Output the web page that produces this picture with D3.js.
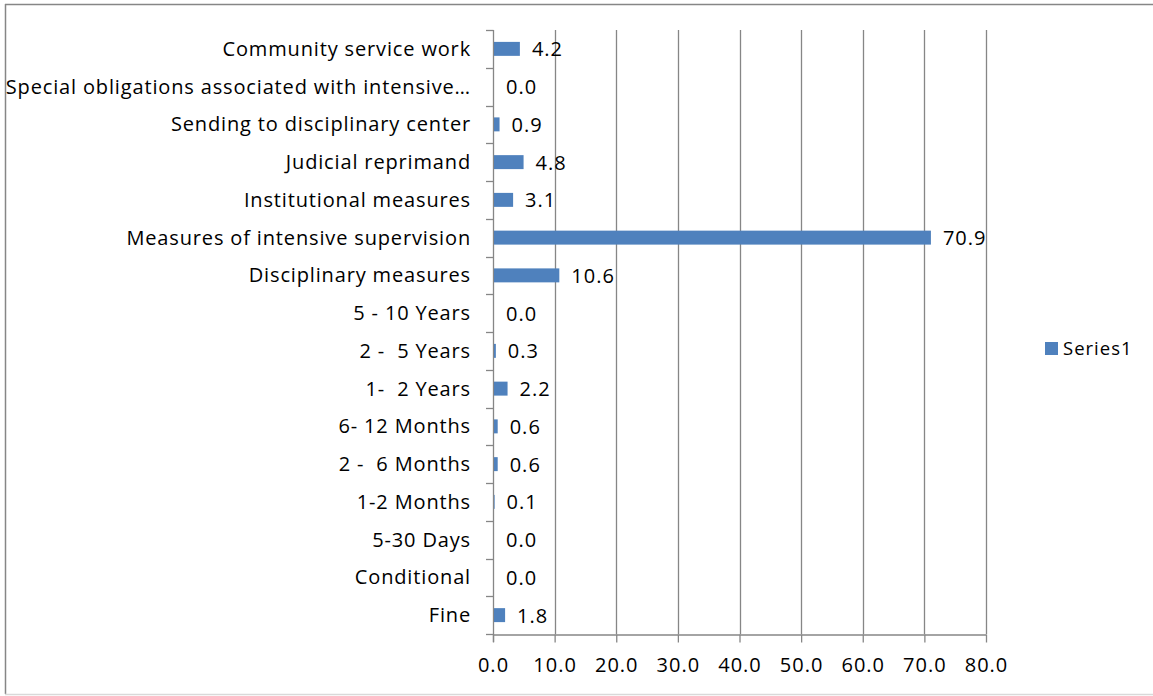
<!DOCTYPE html>
<html>
<head>
<meta charset="utf-8">
<script src="https://cdn.jsdelivr.net/npm/d3@7"></script>
<style>
  body { margin: 0; background: #fff; }
  text { font-family: "Open Sans", sans-serif; fill: #000; }
</style>
</head>
<body>
<div id="chart"></div>
<script>
// bottom to top, as in the picture
const categories = [
  "Fine", "Conditional", "5-30 Days", "1-2 Months", "2 -  6 Months", "6- 12 Months",
  "1-  2 Years", "2 -  5 Years", "5 - 10 Years", "Disciplinary measures",
  "Measures of intensive supervision", "Institutional measures", "Judicial reprimand",
  "Sending to disciplinary center", "Special obligations associated with intensive\u2026",
  "Community service work"
];
const series1 = [1.8, 0.0, 0.0, 0.1, 0.6, 0.6, 2.2, 0.3, 0.0, 10.6, 70.9, 3.1, 4.8, 0.9, 0.0, 4.2];
const xTicks = [0, 10, 20, 30, 40, 50, 60, 70, 80];
const seriesName = "Series1";

const W = 1153, H = 696;
const plot = {left: 493, right: 986, top: 30, bottom: 634};
const blue = "#4f81bd", grey = "#868686";

const svg = d3.select("#chart").append("svg")
  .attr("width", W).attr("height", H);

// outer chart border
svg.append("line").attr("x1", 5.5).attr("x2", 5.5).attr("y1", 4).attr("y2", 694)
  .attr("stroke", grey).attr("stroke-width", 1.5);
svg.append("line").attr("x1", 5).attr("x2", W).attr("y1", 4.5).attr("y2", 4.5)
  .attr("stroke", grey).attr("stroke-width", 1.5);
svg.append("line").attr("x1", 5).attr("x2", W).attr("y1", 694.5).attr("y2", 694.5)
  .attr("stroke", "#d9d9d9").attr("stroke-width", 1.5);

const x = d3.scaleLinear().domain([0, 80]).range([plot.left, plot.right]);
const y = d3.scaleBand().domain(categories.slice().reverse())
  .range([plot.top, plot.bottom]).paddingInner(0.63).paddingOuter(0.315);

// gridlines
svg.append("g").selectAll("line").data(xTicks.slice(1)).join("line")
  .attr("x1", d => Math.round(x(d)) + 0.5).attr("x2", d => Math.round(x(d)) + 0.5)
  .attr("y1", plot.top).attr("y2", plot.bottom)
  .attr("stroke", grey).attr("stroke-width", 1.3);

// x axis
const xAxis = svg.append("g").attr("transform", `translate(0,${plot.bottom + 0.5})`)
  .call(d3.axisBottom(x).tickValues(xTicks).tickSize(8).tickSizeOuter(0).tickPadding(15)
    .tickFormat(d3.format(".1f")));
xAxis.select(".domain").attr("stroke", grey).attr("stroke-width", 1.3);
xAxis.selectAll(".tick line").attr("stroke", grey).attr("stroke-width", 1.3);
xAxis.selectAll(".tick text").attr("font-size", 20).style("letter-spacing", "1px")
  .attr("font-family", "'Open Sans', sans-serif").attr("fill", "#000");

// y axis with ticks at band boundaries
const step = y.step();
const boundaries = categories.map(c => y(c) - (step - y.bandwidth()) / 2).concat([plot.bottom]);
const yg = svg.append("g");
yg.append("line").attr("x1", plot.left + 0.5).attr("x2", plot.left + 0.5)
  .attr("y1", plot.top).attr("y2", plot.bottom + 8)
  .attr("stroke", grey).attr("stroke-width", 1.3);
yg.selectAll("line.tk").data(boundaries).join("line").attr("class", "tk")
  .attr("x1", plot.left - 7).attr("x2", plot.left + 0.5)
  .attr("y1", d => Math.round(d) + 0.5).attr("y2", d => Math.round(d) + 0.5)
  .attr("stroke", grey).attr("stroke-width", 1.3);

// category labels
svg.append("g").selectAll("text").data(categories).join("text")
  .attr("x", plot.left - 22)
  .attr("y", d => y(d) + y.bandwidth() / 2)
  .attr("dy", "0.35em")
  .attr("text-anchor", "end")
  .attr("font-size", 20)
  .style("letter-spacing", "0.85px")
  .style("white-space", "pre")
  .text(d => d);

// bars
svg.append("g").selectAll("rect").data(series1).join("rect")
  .attr("x", plot.left + 1)
  .attr("y", (d, i) => y(categories[i]))
  .attr("width", d => Math.max(0, x(d) - plot.left))
  .attr("height", y.bandwidth())
  .attr("fill", blue);

// value labels
svg.append("g").selectAll("text").data(series1).join("text")
  .attr("x", d => x(d) + 13)
  .attr("y", (d, i) => y(categories[i]) + y.bandwidth() / 2)
  .attr("dy", "0.38em")
  .attr("font-size", 20)
  .style("letter-spacing", "1px")
  .text(d => d.toFixed(1));

// legend
const lg = svg.append("g").attr("transform", "translate(1045,342)");
lg.append("rect").attr("width", 13).attr("height", 13).attr("fill", blue);
lg.append("text").attr("x", 18).attr("y", 7).attr("dy", "0.35em")
  .attr("font-size", 18.5).style("letter-spacing", "1px").text(seriesName);
</script>
</body>
</html>
